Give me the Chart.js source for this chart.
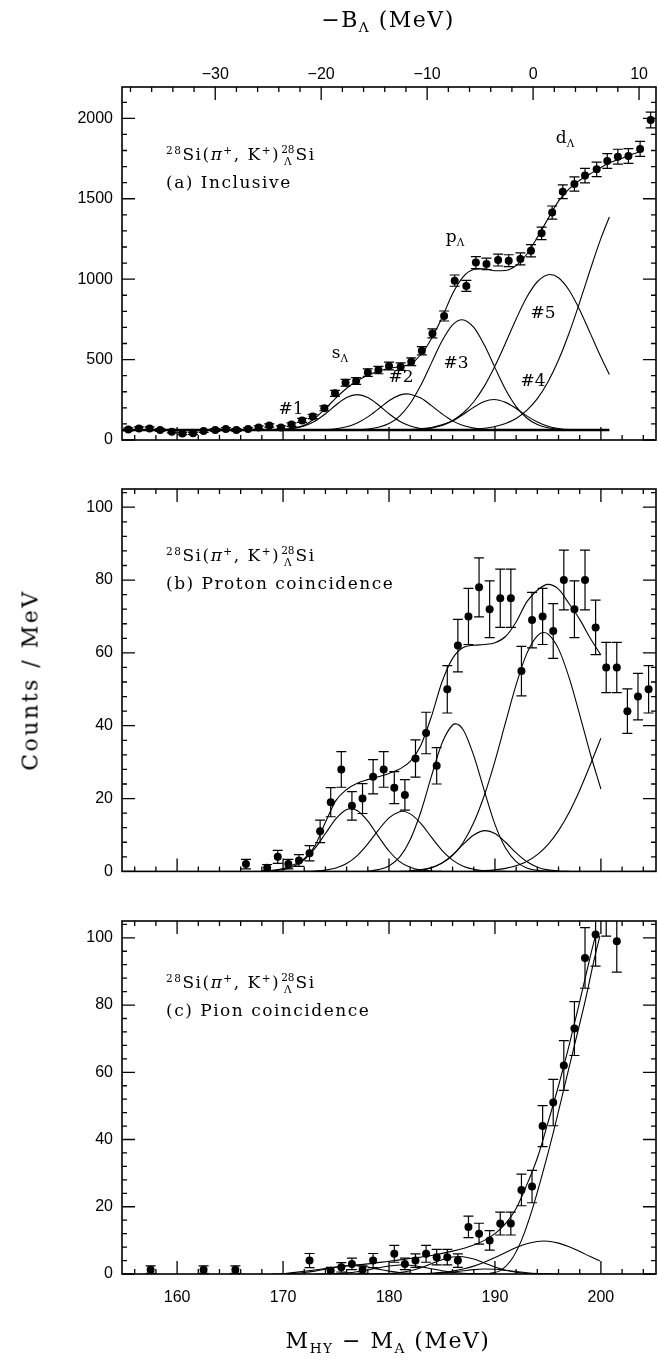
<!DOCTYPE html>
<html>
<head>
<meta charset="utf-8">
<script src="https://cdn.jsdelivr.net/npm/chart.js@4.4.1/dist/chart.umd.min.js"></script>
<style>
  html, body { margin: 0; padding: 0; background: #fff; }
  #page { position: relative; width: 658px; height: 1365px; overflow: hidden; font-family: "DejaVu Serif", serif; color: #000; }
  canvas { position: absolute; left: 0; }
  .txt { position: absolute; white-space: nowrap; transform: translate(-50%, -50%); }
  .ttl { font-size: 22px; letter-spacing: 1.5px; }
  .ann { position: absolute; white-space: nowrap; font-size: 17px; letter-spacing: 1.5px; transform: translateY(-50%); }
  .lbl { font-size: 17px; }
  .sp { font-size: 0.62em; position: relative; top: -0.55em; }
  .sb { font-size: 0.62em; position: relative; top: 0.35em; }
  .stk { display: inline-flex; flex-direction: column; align-items: center; font-size: 0.62em; line-height: 1.05; vertical-align: middle; letter-spacing: 0; margin: 0 1px; }
</style>
</head>
<body>
<div id="page">
  <canvas id="cA" width="658" height="460" style="top:0"></canvas>
  <canvas id="cB" width="658" height="430" style="top:460px"></canvas>
  <canvas id="cC" width="658" height="475" style="top:890px"></canvas>

  <div class="txt ttl" style="left:388px;top:19px">−B<span class="sb">Λ</span> (MeV)</div>
  <div class="txt ttl" style="left:388px;top:1340px">M<span class="sb">HY</span> − M<span class="sb">A</span> (MeV)</div>
  <div class="txt ttl" style="left:30px;top:680px;transform:translate(-50%,-50%) rotate(-90deg);letter-spacing:2.5px">Counts / MeV</div>

  <div class="ann" style="left:166px;top:155px"><span class="sp">28</span>Si(<i>π</i><span class="sp">+</span>, K<span class="sp">+</span>)<span class="stk"><span>28</span><span>Λ</span></span>Si</div>
  <div class="ann" style="left:166px;top:182px">(a) Inclusive</div>
  <div class="ann" style="left:166px;top:556px"><span class="sp">28</span>Si(<i>π</i><span class="sp">+</span>, K<span class="sp">+</span>)<span class="stk"><span>28</span><span>Λ</span></span>Si</div>
  <div class="ann" style="left:166px;top:583px">(b) Proton coincidence</div>
  <div class="ann" style="left:166px;top:983px"><span class="sp">28</span>Si(<i>π</i><span class="sp">+</span>, K<span class="sp">+</span>)<span class="stk"><span>28</span><span>Λ</span></span>Si</div>
  <div class="ann" style="left:166px;top:1010px">(c) Pion coincidence</div>

  <div class="txt lbl" style="left:340px;top:352px">s<span class="sb">Λ</span></div>
  <div class="txt lbl" style="left:455px;top:236px">p<span class="sb">Λ</span></div>
  <div class="txt lbl" style="left:565px;top:137px">d<span class="sb">Λ</span></div>
  <div class="txt lbl" style="left:291px;top:408px">#1</div>
  <div class="txt lbl" style="left:401px;top:376px">#2</div>
  <div class="txt lbl" style="left:456px;top:362px">#3</div>
  <div class="txt lbl" style="left:533px;top:380px">#4</div>
  <div class="txt lbl" style="left:543px;top:312px">#5</div>
</div>

<script>
// -B_Lambda = (M_HY - M_A) - OFFSET_B
const OFFSET_B = 193.6;
const X_MIN = 154.8, X_MAX = 205.2;

// tick labels
const ticksA = [0, 500, 1000, 1500, 2000];
const ticksBC = [0, 20, 40, 60, 80, 100];

// ---- (a) inclusive ----
const massA = [155.4,156.4,157.4,158.4,159.5,160.5,161.5,162.5,163.6,164.6,
  165.6,166.7,167.7,168.7,169.8,170.8,171.8,172.8,173.9,174.9,
  175.9,176.9,178.0,179.0,180.0,181.1,182.1,183.1,184.1,185.2,
  186.2,187.3,188.2,189.2,190.3,191.3,192.4,193.4,194.4,195.4,
  196.4,197.5,198.5,199.6,200.6,201.6,202.6,203.7,204.7];
const countsA = [66,72,72,62,52,40,42,56,62,68,
  62,68,78,90,78,96,122,146,197,290,
  356,367,419,435,460,456,487,555,663,771,
  991,958,1103,1095,1119,1115,1126,1177,1285,1414,
  1544,1592,1644,1683,1735,1762,1766,1810,1990];
const errA = [9,9,9,9,8,7,7,8,9,9,
  9,9,10,10,10,11,12,13,15,19,
  21,21,23,23,24,23,24,26,28,31,
  35,34,37,36,37,37,37,38,39,41,
  43,44,45,45,46,46,46,47,49];
const fitA = [[154.8,62],[168,62],[169,63],[170,66],[171,74],[172,92],[173,135],[174,195],[175,262],
  [176,322],[177,368],[178,403],[179,428],[180,446],[181,455],[182,472],[183,530],[184,630],
  [185,760],[186,910],[187,1015],[188,1060],[189,1065],[190,1052],[191,1054],[192,1085],
  [193,1155],[194,1260],[195,1375],[196,1485],[197,1562],[198,1615],[199,1655],[200,1695],
  [201,1728],[202,1752],[203,1778],[203.7,1793]];
const baseA = [[154.8,62],[200.8,62]];
const peakA1 = [[168,62],[169,63],[170,65],[171,72],[172,87],[173,117],[174,163],[175,218],[176,264],
  [177,282],[178,264],[179,218],[180,163],[181,117],[182,87],[183,72],[184,65],[185,63],[186,62]];
const peakA2 = [[173,63],[174,65],[175,70],[176,82],[177,106],[178,144],[179,193],[180,244],[181,279],
  [181.7,287],[182,285],[183,261],[184,214],[185,163],[186,119],[187,90],[188,74],[189,66],[190,63],[191,62]];
const peakA3 = [[177,62],[178,68],[179,79],[180,102],[181,149],[182,227],[183,340],[184,478],[185,615],
  [186,716],[186.9,748],[188,700],[189,590],[190,450],[191,314],[192,208],[193,137],[194,96],
  [195,76],[196,67],[197,63],[198,62]];
const peakA4 = [[182,63],[183,66],[184,74],[185,90],[186,118],[187,159],[188,204],[189,240],[189.9,252],
  [191,234],[192,196],[193,150],[194,112],[195,86],[196,72],[197,65],[198,63],[199,62]];
const peakA5 = [[180,63],[182,65],[183,70],[184,78],[185,94],[186,122],[187,168],[188,238],[189,335],
  [190,460],[191,603],[192,752],[193,887],[194,984],[195.2,1029],[196,1009],[197,931],[198,809],
  [199,663],[200,516],[200.8,407]];
const peakA6 = [[186,63],[187,64],[188,67],[189,73],[190,84],[191,103],[192,134],[193,184],[194,257],
  [195,361],[196,497],[197,665],[198,857],[199,1060],[200,1254],[200.8,1387]];

// ---- (b) proton coincidence ----
const massB = [166.5,168.5,169.5,170.5,171.5,172.5,173.5,174.5,175.5,176.5,
  177.5,178.5,179.5,180.5,181.5,182.5,183.5,184.5,185.5,186.5,
  187.5,188.5,189.5,190.5,191.5,192.5,193.5,194.5,195.5,196.5,
  197.5,198.5,199.5,200.5,201.5,202.5,203.5,204.5];
const countsB = [2,1,4,2,3,5,11,19,28,18,
  20,26,28,23,21,31,38,29,50,62,
  70,78,72,75,75,55,69,70,66,80,
  72,80,67,56,56,44,48,50];
const errB = [1.3,0.9,1.8,1.3,1.6,2.1,3.1,4.0,4.9,3.9,
  4.1,4.7,4.9,4.4,4.2,5.1,5.7,5.0,6.5,7.2,
  7.7,8.1,7.8,8.0,8.0,6.8,7.6,7.7,7.5,8.2,
  7.8,8.2,7.5,6.9,6.9,6.1,6.4,6.5];
const fitB = [[168,0.1],[169,0.3],[170,0.8],[171,1.8],[172,3.5],[173,7],[174,13.5],[175,19.5],[176,22.5],
  [177,24.2],[178,25.2],[179,26.0],[180,26.9],[181,28.1],[182,30.2],[183,34.6],[184,42.5],[185,52],
  [186,58.5],[187,61.5],[188,62.1],[189,62.3],[190,62.8],[191,64.5],[192,68.5],[193,74],[194,77.2],
  [195,78.8],[196,77.5],[197,73.5],[198,69.2],[199,64.0],[200,59.4]];
const peakB1 = [[168,0],[169,0.15],[170,0.49],[171,1.37],[172,3.2],[173,6.3],[174,10.4],[175,14.5],[176,17.0],
  [176.4,17.2],[177,16.7],[178,13.8],[179,9.6],[180,5.6],[181,2.7],[182,1.13],[183,0.39],[184,0.11],[185,0]];
const peakB2 = [[172,0],[173,0.11],[174,0.34],[175,0.92],[176,2.15],[177,4.34],[178,7.56],[179,11.35],[180,14.7],
  [181,16.4],[181.25,16.5],[182,15.8],[183,13.2],[184,9.4],[185,5.8],[186,3.1],[187,1.43],[188,0.57],
  [189,0.19],[190,0.06],[191,0]];
const peakB3 = [[178,0],[179,0.48],[180,1.48],[181,3.9],[182,8.7],[183,16.3],[184,26.1],[185,35.2],[186,40.2],
  [186.3,40.5],[187,38.9],[188,31.8],[189,22.1],[190,12.9],[191,6.4],[192,2.7],[193,0.96],[194,0.29],
  [195,0.07],[196,0]];
const peakB4 = [[181,0],[182,0.1],[183,0.33],[184,0.96],[185,2.3],[186,4.5],[187,7.4],[188,10.0],[189.1,11.2],
  [190,10.4],[191,8.0],[192,5.1],[193,2.7],[194,1.16],[195,0.42],[196,0.12],[197,0]];
const peakB5 = [[182,0.2],[183,0.5],[184,1.08],[185,2.27],[186,4.4],[187,7.95],[188,13.4],[189,20.9],[190,30.3],
  [191,40.9],[192,51.3],[193,59.8],[194,64.7],[194.6,65.6],[195,65.2],[196,61.1],[197,53.2],[198,43.0],
  [199,32.3],[200,22.6]];
const peakB6 = [[188,0.1],[189,0.21],[190,0.43],[191,0.84],[192,1.55],[193,2.74],[194,4.6],[195,7.35],
  [196,11.2],[197,16.2],[198,22.3],[199,29.3],[200,36.6]];

// ---- (c) pion coincidence ----
const massC = [157.5,162.5,165.5,172.5,174.5,175.5,176.5,177.5,178.5,180.5,
  181.5,182.5,183.5,184.5,185.5,186.5,187.5,188.5,189.5,190.5,
  191.5,192.5,193.5,194.5,195.5,196.5,197.5,198.5,199.5,200.5,201.5];
const countsC = [1.3,1.3,1.3,4,1,2,3,1.3,4,6,
  3,4,6,5,5,4,14,12,10,15,
  15,25,26,44,51,62,73,94,101,111,99];
const errC = [1.1,1.1,1.1,2.1,1,1.4,1.7,1.1,2.1,2.5,
  1.7,2,2.5,2.3,2.3,2,3.2,3.1,2.9,3.4,
  3.4,4.7,4.8,6.1,6.9,7.4,8.0,9.0,9.4,10.5,9.2];
const fitC = [[169.8,0],[172,0.8],[174,1.6],[176,2.4],[178,3.0],[180,3.8],[182,4.6],[184,5.5],[186,6.8],
  [187,7.6],[188,8.6],[189,10],[190,12],[191,15],[192,19.5],[193,26.5],[194,34.5],[195,45],
  [196,56],[197,68],[198,81],[199,94.5],[199.6,102]];
const peakC1 = [[169,0],[170,0.06],[171,0.18],[172,0.43],[173,0.86],[174,1.45],[175,2.06],[176,2.45],
  [176.5,2.5],[177,2.45],[178,2.06],[179,1.45],[180,0.86],[181,0.43],[182,0.18],[183,0.06],[184,0]];
const peakC2 = [[173,0],[174,0.05],[175,0.14],[176,0.34],[177,0.69],[178,1.21],[179,1.83],[180,2.38],
  [181,2.68],[181.3,2.7],[182,2.6],[183,2.18],[184,1.57],[185,0.98],[186,0.53],[187,0.24],[188,0.1],
  [189,0.03],[190,0]];
const peakC3 = [[178,0],[179,0.05],[180,0.16],[181,0.42],[182,0.96],[183,1.84],[184,3.03],[185,4.24],
  [186,5.05],[186.6,5.2],[187,5.13],[188,4.45],[189,3.28],[190,2.06],[191,1.1],[192,0.5],[193,0.2],
  [194,0.06],[195,0]];
const peakC4 = [[182,0],[183,0.04],[184,0.12],[185,0.28],[186,0.57],[187,0.95],[188,1.31],[189,1.49],
  [190,1.41],[191,1.1],[192,0.72],[193,0.38],[194,0.17],[195,0.06],[196,0]];
const peakC5 = [[182,0.1],[184,0.24],[185,0.47],[186,0.86],[187,1.47],[188,2.34],[189,3.5],[190,4.89],
  [191,6.4],[192,7.85],[193,9.0],[194,9.68],[194.6,9.8],[195,9.75],[196,9.19],[197,8.11],[198,6.7],
  [199,5.19],[199.9,3.9]];
const peakC6 = [[189.5,0.2],[190.5,1],[191.5,4],[192.5,10],[193.5,19],[194.5,30],[195.5,42],[196.5,55],
  [197.5,68],[198.5,81],[199.4,94],[199.9,100.5]];

Chart.defaults.font.family = "'Liberation Sans', sans-serif";
Chart.defaults.color = "#000";

const tickFont = { family: "'Liberation Sans', sans-serif", size: 16 };

function dots(xs, ys, errs) {
  return {
    data: xs.map((x, i) => ({ x: x, y: ys[i] })),
    errors: errs,
    showLine: false,
    pointRadius: 4,
    pointBackgroundColor: "#000",
    pointBorderColor: "#000",
    pointBorderWidth: 0
  };
}

function curve(pts, width) {
  return {
    data: pts.map(p => ({ x: p[0], y: p[1] })),
    showLine: true,
    pointRadius: 0,
    borderColor: "#000",
    borderWidth: width || 1.1,
    cubicInterpolationMode: "monotone",
    fill: false
  };
}

// frame, inward ticks and error bars
const frame = {
  id: "frame",
  beforeDatasetsDraw(chart) {
    const { ctx, chartArea: a } = chart;
    const sx = chart.scales.x, sy = chart.scales.y;
    ctx.save();
    ctx.beginPath();
    ctx.rect(a.left, a.top, a.right - a.left, a.bottom - a.top);
    ctx.clip();
    ctx.strokeStyle = "#000";
    ctx.lineWidth = 1.2;
    ctx.beginPath();
    chart.data.datasets.forEach(ds => {
      if (!ds.errors) return;
      ds.data.forEach((p, i) => {
        const px = sx.getPixelForValue(p.x);
        const lo = sy.getPixelForValue(p.y - ds.errors[i]);
        const hi = sy.getPixelForValue(p.y + ds.errors[i]);
        ctx.moveTo(px, lo); ctx.lineTo(px, hi);
        ctx.moveTo(px - 5, lo); ctx.lineTo(px + 5, lo);
        ctx.moveTo(px - 5, hi); ctx.lineTo(px + 5, hi);
      });
    });
    ctx.stroke();
    ctx.restore();
  },
  afterDraw(chart, args, o) {
    const { ctx, chartArea: a } = chart;
    const sx = chart.scales.x, sy = chart.scales.y;
    const st = o.top ? chart.scales[o.top] : sx;
    const isMajor = (v, m) => Math.abs(v / m - Math.round(v / m)) < 1e-6;
    ctx.save();
    ctx.strokeStyle = "#000";
    ctx.lineWidth = 1.3;
    ctx.beginPath();
    for (let k = Math.ceil(sx.min / 2); k * 2 <= sx.max; k++) {
      const v = k * 2, px = sx.getPixelForValue(v);
      const len = isMajor(v, 10) ? 13 : 5;
      ctx.moveTo(px, a.bottom); ctx.lineTo(px, a.bottom - len);
    }
    for (let k = Math.ceil(st.min / 2); k * 2 <= st.max; k++) {
      const v = k * 2, px = st.getPixelForValue(v);
      const len = isMajor(v, 10) ? 13 : 5;
      ctx.moveTo(px, a.top); ctx.lineTo(px, a.top + len);
    }
    for (let k = 0; k * o.yMinor <= sy.max; k++) {
      const v = k * o.yMinor, py = sy.getPixelForValue(v);
      const len = isMajor(v, o.yMajor) ? 13 : 5;
      ctx.moveTo(a.left, py); ctx.lineTo(a.left + len, py);
      ctx.moveTo(a.right, py); ctx.lineTo(a.right - len, py);
    }
    ctx.stroke();
    ctx.lineWidth = 1.6;
    ctx.strokeRect(a.left, a.top, a.right - a.left, a.bottom - a.top);
    ctx.restore();
  }
};

function panel(id, padTop, bottomH, yMax, yTicks, yMinor, datasets, showX, withTop) {
  const scales = {
    x: {
      type: "linear", position: "bottom", min: X_MIN, max: X_MAX,
      grid: { display: false, drawTicks: false }, border: { display: false },
      ticks: { display: showX, stepSize: 10, includeBounds: false, autoSkip: false, maxRotation: 0,
        padding: 14, color: "#000", font: tickFont, callback: v => String(v) },
      afterFit: s => { s.height = bottomH; }
    },
    y: {
      type: "linear", position: "left", min: 0, max: yMax,
      grid: { display: false, drawTicks: false }, border: { display: false },
      ticks: { padding: 9, color: "#000", font: tickFont, callback: v => String(v) },
      afterBuildTicks: s => { s.ticks = yTicks.map(v => ({ value: v })); },
      afterFit: s => { s.width = 122; }
    }
  };
  if (withTop) {
    scales.x2 = {
      type: "linear", position: "top", min: X_MIN - OFFSET_B, max: X_MAX - OFFSET_B,
      grid: { display: false, drawTicks: false }, border: { display: false },
      ticks: { stepSize: 10, includeBounds: false, autoSkip: false, maxRotation: 0, padding: 3,
        color: "#000", font: tickFont, callback: v => (v < 0 ? "\u2212" + (-v) : String(v)) },
      afterFit: s => { s.height = padTop; }
    };
  }
  return new Chart(document.getElementById(id), {
    type: "scatter",
    data: { datasets: datasets },
    plugins: [frame],
    options: {
      responsive: false,
      animation: false,
      events: [],
      layout: { autoPadding: false, padding: { left: 0, right: 2, top: withTop ? 0 : padTop, bottom: 0 } },
      plugins: {
        legend: { display: false },
        tooltip: { enabled: false },
        frame: { yMinor: yMinor, yMajor: yTicks[1], top: withTop ? "x2" : null }
      },
      scales: scales
    }
  });
}

panel("cA", 87, 20, 2195, ticksA, 100, [
  dots(massA, countsA, errA),
  curve(fitA),
  curve(baseA, 2.6),
  curve(peakA1), curve(peakA2), curve(peakA3),
  curve(peakA4), curve(peakA5), curve(peakA6)
], false, true);

panel("cB", 29, 18, 105, ticksBC, 4, [
  dots(massB, countsB, errB),
  curve(fitB),
  curve(peakB1), curve(peakB2), curve(peakB3),
  curve(peakB4), curve(peakB5), curve(peakB6)
], false, false);

panel("cC", 31, 91, 105, ticksBC, 4, [
  dots(massC, countsC, errC),
  curve(fitC),
  curve(peakC1), curve(peakC2), curve(peakC3),
  curve(peakC4), curve(peakC5), curve(peakC6)
], true, false);
</script>
</body>
</html>
